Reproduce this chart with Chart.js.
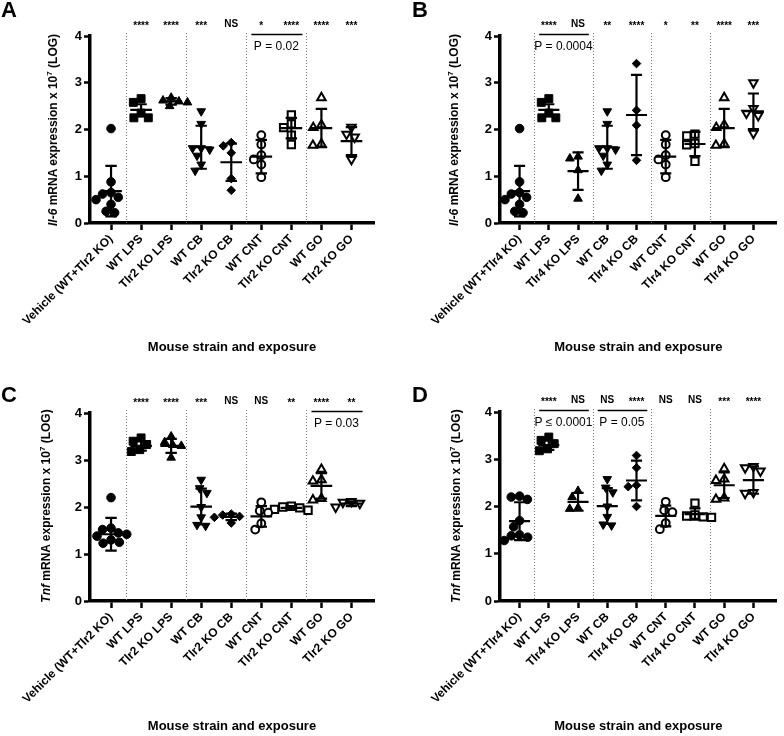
<!DOCTYPE html>
<html>
<head>
<meta charset="utf-8">
<script src="https://cdn.jsdelivr.net/npm/chart.js@4.4.1/dist/chart.umd.min.js"></script>
<style>
  body { margin: 0; background: #fff; font-family: 'Liberation Sans', Arial, sans-serif; }
  #wrap { position: relative; width: 784px; height: 736px; }
  .panel { position: absolute; width: 392px; height: 368px; }
  .letter { position: absolute; font-weight: bold; font-size: 22px; line-height: 1; }
  .ytitle { position: absolute; font-weight: bold; font-size: 12px; white-space: nowrap;
            transform: translate(-50%, -50%) rotate(-90deg); }
  .ytitle sup { font-size: 8px; line-height: 0; }
</style>
</head>
<body>
<div id="wrap">
  <div class="panel" style="left:0;top:0"><canvas id="chartA"></canvas>
    <div class="letter" style="left:1px;top:-1px">A</div>
    <div class="ytitle" style="left:53px;top:130px"><i>Il-6</i> mRNA expression x 10<sup>7</sup> (LOG)</div></div>
  <div class="panel" style="left:392px;top:0"><canvas id="chartB"></canvas>
    <div class="letter" style="left:20px;top:-1px">B</div>
    <div class="ytitle" style="left:62px;top:130px"><i>Il-6</i> mRNA expression x 10<sup>7</sup> (LOG)</div></div>
  <div class="panel" style="left:0;top:368px"><canvas id="chartC"></canvas>
    <div class="letter" style="left:1px;top:16px">C</div>
    <div class="ytitle" style="left:46px;top:138px"><i>Tnf</i> mRNA expression x 10<sup>7</sup> (LOG)</div></div>
  <div class="panel" style="left:392px;top:368px"><canvas id="chartD"></canvas>
    <div class="letter" style="left:20px;top:16px">D</div>
    <div class="ytitle" style="left:64px;top:138px"><i>Tnf</i> mRNA expression x 10<sup>7</sup> (LOG)</div></div>
</div>
<script>
// group names
const tlr2Groups = ['Vehicle (WT+Tlr2 KO)', 'WT LPS', 'Tlr2 KO LPS', 'WT CB', 'Tlr2 KO CB',
  'WT CNT', 'Tlr2 KO CNT', 'WT GO', 'Tlr2 KO GO'];
const tlr4Groups = ['Vehicle (WT+Tlr4 KO)', 'WT LPS', 'Tlr4 KO LPS', 'WT CB', 'Tlr4 KO CB',
  'WT CNT', 'Tlr4 KO CNT', 'WT GO', 'Tlr4 KO GO'];
const yTicks = [0, 1, 2, 3, 4];

// A: Il-6, Tlr2
const il6Tlr2 = [
  [2.02, 0.88, 0.65, 0.62, 0.55, 0.5, 0.4, 0.25, 0.22],
  [2.66, 2.58, 2.35, 2.25, 2.25],
  [2.68, 2.62, 2.6, 2.58, 2.5],
  [2.39, 2.12, 1.6, 1.6, 1.57, 1.44, 1.25, 1.12],
  [1.72, 1.65, 1.5, 0.95, 0.7],
  [1.88, 1.68, 1.45, 1.36, 1.25, 0.98],
  [2.31, 2.12, 2.04, 1.88, 1.68],
  [2.68, 2.1, 2.04, 1.69, 1.66],
  [2.05, 1.9, 1.84, 1.36]
];
const il6Tlr2Mean = [0.68, 2.42, 2.6, 1.62, 1.3, 1.42, 2.03, 2.03, 1.75];
const il6Tlr2Sd = [0.54, 0.12, 0.07, 0.46, 0.4, 0.36, 0.22, 0.41, 0.3];
const il6Tlr2Stars = ['', '****', '****', '***', 'NS', '*', '****', '****', '***'];
const il6Tlr2Pairs = [[5, 6, 'P = 0.02']];

// B: Il-6, Tlr4
const il6Tlr4 = [
  [2.02, 0.88, 0.65, 0.62, 0.55, 0.5, 0.4, 0.25, 0.22],
  [2.66, 2.58, 2.35, 2.25, 2.25],
  [1.42, 1.38, 1.13, 0.52],
  [2.39, 2.12, 1.6, 1.6, 1.57, 1.44, 1.25, 1.12],
  [3.41, 2.41, 2.09, 1.34],
  [1.88, 1.68, 1.45, 1.36, 1.25, 0.98],
  [1.9, 1.86, 1.7, 1.67, 1.32],
  [2.68, 2.1, 2.04, 1.69, 1.66],
  [3.0, 2.45, 2.35, 2.3, 1.92]
];
const il6Tlr4Mean = [0.68, 2.42, 1.11, 1.62, 2.31, 1.42, 1.69, 2.03, 2.39];
const il6Tlr4Sd = [0.54, 0.12, 0.4, 0.46, 0.86, 0.36, 0.26, 0.41, 0.38];
const il6Tlr4Stars = ['', '****', 'NS', '**', '****', '*', '**', '****', '***'];
const il6Tlr4Pairs = [[1, 2, 'P = 0.0004']];

// C: Tnf, Tlr2
const tnfTlr2 = [
  [2.2, 1.55, 1.52, 1.45, 1.42, 1.38, 1.3, 1.25, 1.23],
  [3.47, 3.4, 3.33, 3.22, 3.18],
  [3.5, 3.38, 3.32, 3.3, 3.05],
  [2.58, 2.4, 2.3, 2.0, 1.78, 1.62, 1.6],
  [1.85, 1.83, 1.8, 1.78, 1.66],
  [2.1, 1.92, 1.88, 1.65, 1.52],
  [2.02, 2.0, 1.98, 1.95, 1.93],
  [2.8, 2.58, 2.55, 2.18, 2.15],
  [2.12, 2.1, 2.08, 2.0]
];
const tnfTlr2Mean = [1.42, 3.3, 3.3, 2.01, 1.79, 1.8, 1.98, 2.45, 2.07];
const tnfTlr2Sd = [0.35, 0.1, 0.15, 0.38, 0.07, 0.22, 0.04, 0.27, 0.05];
const tnfTlr2Stars = ['', '****', '****', '***', 'NS', 'NS', '**', '****', '**'];
const tnfTlr2Pairs = [[7, 8, 'P = 0.03']];

// D: Tnf, Tlr4
const tnfTlr4 = [
  [2.22, 2.2, 2.15, 1.7, 1.57, 1.4, 1.38, 1.35, 1.28],
  [3.47, 3.4, 3.33, 3.22, 3.18],
  [2.33, 2.2, 1.97, 1.95],
  [2.58, 2.4, 2.3, 2.0, 1.78, 1.62, 1.6],
  [3.08, 2.82, 2.45, 2.42, 2.0],
  [2.1, 1.92, 1.88, 1.65, 1.52],
  [2.07, 1.82, 1.8, 1.78, 1.77],
  [2.8, 2.58, 2.55, 2.18, 2.15],
  [2.85, 2.82, 2.75, 2.3, 2.28]
];
const tnfTlr4Mean = [1.69, 3.3, 2.1, 2.01, 2.55, 1.8, 1.84, 2.45, 2.56];
const tnfTlr4Sd = [0.4, 0.1, 0.19, 0.38, 0.42, 0.22, 0.12, 0.27, 0.29];
const tnfTlr4Stars = ['', '****', 'NS', 'NS', '****', 'NS', 'NS', '***', '****'];
const tnfTlr4Pairs = [[1, 2, 'P \u2264 0.0001'], [3, 4, 'P = 0.05']];

const FONT = "'Liberation Sans', Arial, sans-serif";
Chart.defaults.font.family = FONT;
Chart.defaults.color = '#000';

// marker look per group (filled for the first five, open for the rest)
const markers = [
  { pointStyle: 'circle', radius: 4.3, rot: 0, open: false },
  { pointStyle: 'rect', radius: 5.6, rot: 0, open: false },
  { pointStyle: 'triangle', radius: 5.0, rot: 0, open: false },
  { pointStyle: 'triangle', radius: 5.0, rot: 180, open: false },
  { pointStyle: 'rectRot', radius: 4.3, rot: 0, open: false },
  { pointStyle: 'circle', radius: 3.9, rot: 0, open: true },
  { pointStyle: 'rect', radius: 5.2, rot: 0, open: true },
  { pointStyle: 'triangle', radius: 4.9, rot: 0, open: true },
  { pointStyle: 'triangle', radius: 4.9, rot: 180, open: true }
];

// simple beeswarm so that points at similar heights sit side by side
function swarm(vals, pxPerUnit, pxPerCat, diam) {
  const placed = [];
  return vals.map(v => {
    const y = v * pxPerUnit;
    const blocked = [];
    placed.forEach(p => {
      const dy = Math.abs(p.y - y);
      if (dy < diam) {
        const w = Math.sqrt(diam * diam - dy * dy);
        blocked.push([p.x - w, p.x + w]);
      }
    });
    const cands = [0];
    blocked.forEach(b => cands.push(b[0], b[1]));
    cands.sort((a, b) => Math.abs(a) - Math.abs(b));
    let x = 0;
    for (const c of cands) {
      if (blocked.every(b => c <= b[0] + 1e-6 || c >= b[1] - 1e-6)) { x = c; break; }
    }
    placed.push({ x, y });
    return x / pxPerCat;
  });
}

const annotPlugin = {
  id: 'annot',
  beforeDatasetsDraw(chart, args, o) {
    const { ctx, chartArea } = chart;
    const xs = chart.scales.x;
    ctx.save();
    ctx.strokeStyle = '#777';
    ctx.lineWidth = 1;
    ctx.setLineDash([1, 2]);
    [0.5, 2.5, 4.5, 6.5].forEach(d => {
      const px = Math.round(xs.getPixelForValue(d)) + 0.5;
      ctx.beginPath();
      ctx.moveTo(px, chartArea.top - 3);
      ctx.lineTo(px, chartArea.bottom);
      ctx.stroke();
    });
    ctx.restore();
  },
  afterDatasetsDraw(chart, args, o) {
    const { ctx, chartArea } = chart;
    const xs = chart.scales.x, ys = chart.scales.y;
    ctx.save();
    ctx.strokeStyle = '#000';
    ctx.lineWidth = 2.2;
    o.means.forEach((m, i) => {
      const xc = xs.getPixelForValue(i);
      const hw = xs.getPixelForValue(i + 0.36) - xc;
      const cw = xs.getPixelForValue(i + 0.19) - xc;
      const ym = ys.getPixelForValue(m);
      const yt = ys.getPixelForValue(m + o.sds[i]);
      const yb = ys.getPixelForValue(m - o.sds[i]);
      ctx.beginPath();
      ctx.moveTo(xc - hw, ym); ctx.lineTo(xc + hw, ym);
      ctx.moveTo(xc, yt); ctx.lineTo(xc, yb);
      ctx.moveTo(xc - cw, yt); ctx.lineTo(xc + cw, yt);
      ctx.moveTo(xc - cw, yb); ctx.lineTo(xc + cw, yb);
      ctx.stroke();
    });
    // significance marks
    ctx.fillStyle = '#000';
    ctx.textAlign = 'center';
    ctx.textBaseline = 'middle';
    ctx.font = 'bold 10px ' + FONT;
    o.stars.forEach((s, i) => {
      if (!s) return;
      const dy = s[0] === '*' ? 2.5 : 0;
      ctx.fillText(s, xs.getPixelForValue(i), chartArea.top - 12 + dy);
    });
    // brackets with p values
    ctx.lineWidth = 1.5;
    ctx.font = '12px ' + FONT;
    o.pairs.forEach(p => {
      const x1 = xs.getPixelForValue(p[0] - 0.33);
      const x2 = xs.getPixelForValue(p[1] + 0.37);
      const yl = ys.getPixelForValue(4.03);
      ctx.beginPath();
      ctx.moveTo(x1, yl); ctx.lineTo(x2, yl);
      ctx.stroke();
      const xm = (xs.getPixelForValue(p[0]) + xs.getPixelForValue(p[1])) / 2;
      ctx.fillText(p[2], xm, ys.getPixelForValue(3.78));
    });
    ctx.restore();
  }
};

function makePanel(id, groups, values, means, sds, stars, pairs, lay) {
  const datasets = values.map((vals, i) => {
    const mk = markers[i];
    const offs = swarm(vals, 47, 30, 8.6);
    return {
      label: groups[i],
      data: vals.map((v, k) => ({ x: i + offs[k], y: v })),
      pointStyle: mk.pointStyle,
      pointRadius: mk.radius,
      pointRotation: mk.rot,
      backgroundColor: mk.open ? '#fff' : '#000',
      borderColor: '#000',
      borderWidth: mk.open ? 2 : 1,
      showLine: false
    };
  });
  const xHeight = 368 - lay.padBottom - lay.bottom;
  new Chart(document.getElementById(id), {
    type: 'scatter',
    data: { datasets },
    plugins: [annotPlugin],
    options: {
      responsive: true,
      maintainAspectRatio: false,
      animation: false,
      clip: false,
      layout: { padding: { top: lay.top, right: lay.padRight, bottom: lay.padBottom, left: 0 } },
      plugins: {
        legend: { display: false },
        tooltip: { enabled: false },
        annot: { means, sds, stars, pairs }
      },
      scales: {
        x: {
          type: 'linear',
          min: lay.xmin,
          max: lay.xmax,
          afterBuildTicks: axis => { axis.ticks = groups.map((g, i) => ({ value: i })); },
          afterFit: axis => { axis.height = xHeight; },
          ticks: {
            autoSkip: false,
            maxRotation: 45,
            minRotation: 45,
            padding: 2,
            font: { size: 12, weight: 'bold' },
            callback: v => groups[v]
          },
          grid: { drawOnChartArea: false, drawTicks: true, tickLength: 7, tickWidth: 2.5, tickColor: '#000', color: '#000' },
          border: { color: '#000', width: 3.5 },
          title: { display: true, text: 'Mouse strain and exposure', font: { size: 13, weight: 'bold' }, padding: { top: 4, bottom: 0 } }
        },
        y: {
          min: 0,
          max: 4,
          afterBuildTicks: axis => { axis.ticks = yTicks.map(v => ({ value: v })); },
          afterFit: axis => { axis.width = lay.left; },
          ticks: { padding: 2, font: { size: 13, weight: 'bold' } },
          grid: { drawOnChartArea: false, drawTicks: true, tickLength: 6, tickWidth: 2.5, tickColor: '#000', color: '#000' },
          border: { color: '#000', width: 3.5 }
        }
      }
    }
  });
}

makePanel('chartA', tlr2Groups, il6Tlr2, il6Tlr2Mean, il6Tlr2Sd, il6Tlr2Stars, il6Tlr2Pairs,
  { left: 90, top: 36, bottom: 223, padBottom: 13, padRight: 18, xmin: -0.7, xmax: 8.75 });
makePanel('chartB', tlr4Groups, il6Tlr4, il6Tlr4Mean, il6Tlr4Sd, il6Tlr4Stars, il6Tlr4Pairs,
  { left: 108, top: 36, bottom: 223, padBottom: 13, padRight: 0, xmin: -0.67, xmax: 8.8 });
makePanel('chartC', tlr2Groups, tnfTlr2, tnfTlr2Mean, tnfTlr2Sd, tnfTlr2Stars, tnfTlr2Pairs,
  { left: 90, top: 45, bottom: 233, padBottom: 2, padRight: 18, xmin: -0.7, xmax: 8.75 });
makePanel('chartD', tlr4Groups, tnfTlr4, tnfTlr4Mean, tnfTlr4Sd, tnfTlr4Stars, tnfTlr4Pairs,
  { left: 108, top: 44, bottom: 233, padBottom: 2, padRight: 0, xmin: -0.67, xmax: 8.8 });
</script>
</body>
</html>
